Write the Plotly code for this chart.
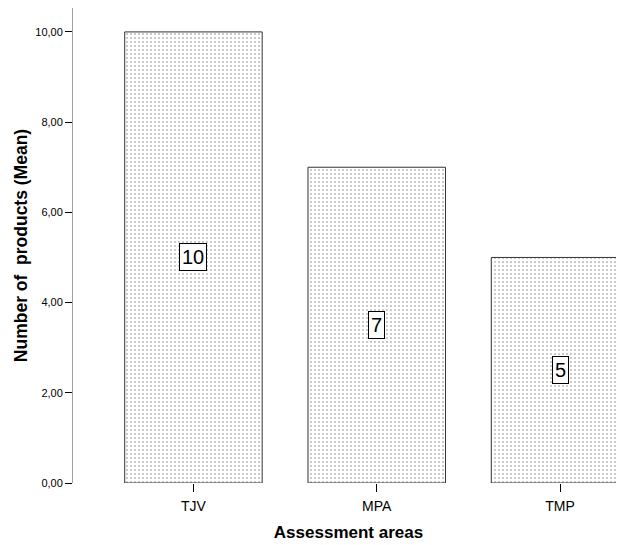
import plotly.graph_objects as go

categories = ["TJV", "MPA", "TMP"]
means = [10, 7, 5]
y_ticks = [0, 2, 4, 6, 8, 10]
y_tick_labels = ["0,00", "2,00", "4,00", "6,00", "8,00", "10,00"]

fig = go.Figure()
fig.add_trace(go.Bar(
    x=categories, y=means,
    marker=dict(
        color="white",
        line=dict(color="#333333", width=1),
        pattern=dict(shape=".", fgcolor="#000000", bgcolor="white", size=4, solidity=0.12),
    ),
    width=0.75,
    hoverinfo="skip",
))

for c, v in zip(categories, means):
    fig.add_annotation(
        x=c, y=v / 2, text=str(v), showarrow=False,
        font=dict(family="Liberation Sans, Arial", size=20, color="black"),
        bgcolor="white", bordercolor="black", borderwidth=1, borderpad=2,
    )

# the page body has an 8px margin, so offsets are compensated
fig.update_layout(
    width=616, height=537,
    margin=dict(l=65, r=0, t=0, b=62),
    paper_bgcolor="white", plot_bgcolor="white",
    showlegend=False,
    font=dict(family="Liberation Sans, Arial", color="black"),
    xaxis=dict(
        type="category",
        range=[-0.657, 2.349],
        showline=False, showgrid=False, zeroline=False,
        ticks="outside", ticklen=8, tickcolor="black", tickwidth=1,
        ticklabelstandoff=2,
        tickfont=dict(size=14),
        title=dict(text="<b>Assessment areas</b>", font=dict(size=17), standoff=13),
    ),
    yaxis=dict(
        range=[0, 10.53],
        tickvals=y_ticks, ticktext=y_tick_labels,
        showline=True, linecolor="#a0a0a0", linewidth=1,
        showgrid=False, zeroline=False,
        ticks="outside", ticklen=7, tickcolor="black", tickwidth=1,
        tickfont=dict(size=11),
        title=dict(text="<b>Number of  products (Mean)</b>", font=dict(size=17.5), standoff=3),
    ),
)

fig.write_html("out.html")
